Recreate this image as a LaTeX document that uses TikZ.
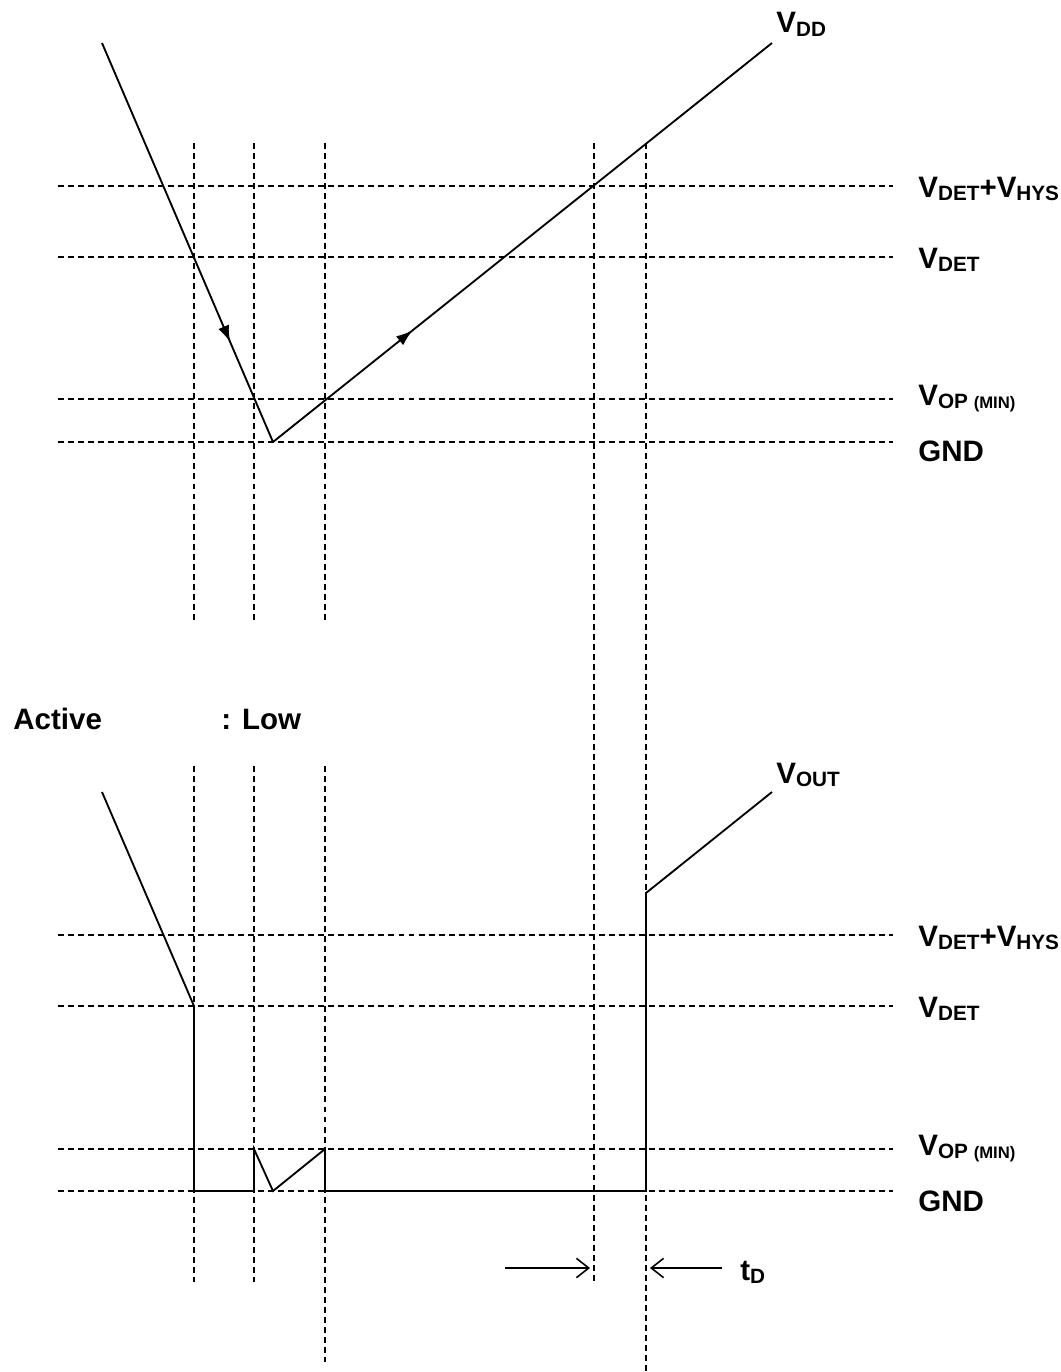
\documentclass[tikz,border=0pt]{standalone}
\usepackage{fontspec}
\setmainfont{Liberation Sans}
\usetikzlibrary{arrows.meta,decorations.markings}
\newcommand{\lsub}[1]{\raisebox{-1.8pt}{\fontsize{11.8pt}{13pt}\selectfont #1}}
\newcommand{\lsmall}[1]{{\fontsize{9.5pt}{11pt}\selectfont #1}}
\tikzset{
  guide/.style={dash pattern=on 3.4pt off 2.3pt, line width=0.8pt},
  wave/.style={line width=1.05pt, line join=miter},
  lbl/.style={anchor=base west, inner sep=0pt, font=\fontsize{16.8pt}{19pt}\selectfont\bfseries},
  midarrow/.style={postaction={decorate}, decoration={markings,
      mark=at position #1 with {\arrow{Latex[length=9.5pt,width=6.5pt]}}}},
  tdarrow/.style={-{Straight Barb[length=7pt,width=11pt]}, line width=0.9pt},
}
\begin{document}
\begin{tikzpicture}[x=0.02cm,y=-0.02cm]
\useasboundingbox (0,0) rectangle (1061,1372);
% supply voltage
\foreach \y in {186,257,399,442} \draw[guide] (58,\y) -- (893,\y);
\foreach \x in {194,254,325} \draw[guide] (\x,143) -- (\x,620);
\draw[guide] (594,143) -- (594,1282);
\draw[guide] (646,143) -- (646,1372);
\coordinate (vin) at (102,43);
\coordinate (vlow) at (273,442);
\coordinate (vtop) at (772,43);
\draw[wave,midarrow=0.75] (vin) -- (vlow);
\draw[wave,midarrow=0.28] (vlow) -- (vtop);
\node[lbl] (vdd) at (776,33) {V\lsub{DD}};
\node[lbl] (hysA) at (918,197) {V\lsub{DET}+V\lsub{HYS}};
\node[lbl] (detA) at (918,268) {V\lsub{DET}};
\node[lbl] (opA) at (918,405) {V\lsub{OP \lsmall{(MIN)}}};
\node[lbl] (gndA) at (918,461) {GND};
% output
\node[lbl] (act) at (13,729) {Active};
\node[lbl] (low) at (221,729) {: Low};
\foreach \y in {935,1006,1149,1191} \draw[guide] (58,\y) -- (893,\y);
\foreach \x in {194,254} \draw[guide] (\x,766) -- (\x,1282);
\draw[guide] (325,766) -- (325,1362);
\draw[wave] (102,792) -- (194,1006) -- (194,1191) -- (254,1191) -- (254,1149)
  -- (273,1191) -- (325,1149) -- (325,1191) -- (646,1191) -- (646,893) -- (772,792);
\node[lbl] (vout) at (776,783) {V\lsub{OUT}};
\node[lbl] (hysB) at (918,946) {V\lsub{DET}+V\lsub{HYS}};
\node[lbl] (detB) at (918,1017) {V\lsub{DET}};
\node[lbl] (opB) at (918,1155) {V\lsub{OP \lsmall{(MIN)}}};
\node[lbl] (gndB) at (918,1211) {GND};
% delay time
\coordinate (ta) at (505,1268);
\coordinate (tb) at (590,1268);
\coordinate (tc) at (650,1268);
\coordinate (td) at (722,1268);
\draw[tdarrow] (ta) -- (tb);
\draw[tdarrow] (td) -- (tc);
\node[lbl] (tdl) at (740,1280) {t\lsub{D}};
\end{tikzpicture}
\end{document}
